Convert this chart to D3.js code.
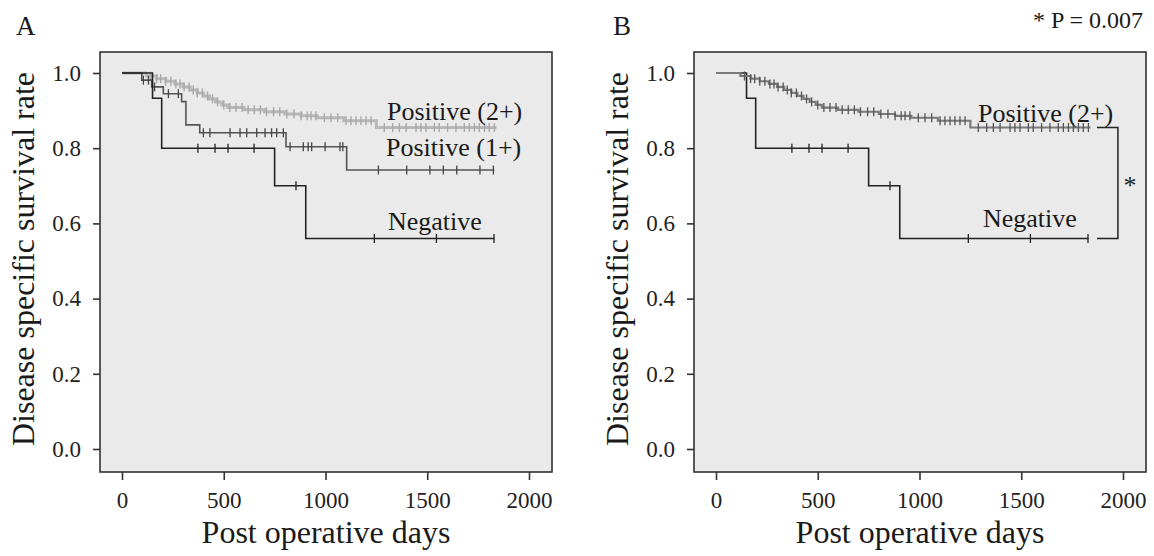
<!DOCTYPE html>
<html><head><meta charset="utf-8">
<script src="https://cdn.jsdelivr.net/npm/d3@7"></script>
<style>
html,body{margin:0;padding:0;background:#fff;}
svg{display:block;font-family:"Liberation Serif","Times New Roman",serif;}
</style></head>
<body><svg id="c" width="1154" height="556"></svg>
<script>
// ---- data ----
const xTicks = [0, 500, 1000, 1500, 2000];
const yTicks = [0.0, 0.2, 0.4, 0.6, 0.8, 1.0];
const panelLetters = ["A", "B"];
const xTitle = "Post operative days";
const yTitle = "Disease specific survival rate";
const pText = "* P = 0.007";

// Negative
const negTimes = [0, 150, 195, 750, 903, 1830];
const negSurv  = [1.0, 0.933, 0.8, 0.7, 0.56, 0.56];
const negCensor = [373, 457, 521, 649, 855, 1240, 1545, 1828];

// Positive (1+)
const pos1Times = [0, 97, 146, 203, 293, 314, 382, 806, 1104, 1830];
const pos1Surv  = [1.0, 0.981, 0.963, 0.945, 0.924, 0.862, 0.841, 0.804, 0.742, 0.742];
const pos1Censor = [105, 130, 160, 228, 277, 400, 432, 531, 580, 613, 662, 703, 735, 760, 793,
                    826, 891, 915, 932, 998, 1071, 1085, 1260, 1399, 1513, 1579, 1645, 1759, 1825];

// Positive (2+)
const pos2Times = [0, 120, 170, 215, 260, 300, 335, 370, 400, 430, 460, 490, 520, 600, 700, 800, 880, 960, 1090, 1250, 1840];
const pos2Surv  = [1.0, 0.992, 0.985, 0.978, 0.971, 0.963, 0.955, 0.947, 0.939, 0.931, 0.923, 0.915, 0.908,
                   0.902, 0.897, 0.891, 0.886, 0.881, 0.873, 0.855, 0.855];
const pos2Censor = [140, 170, 190, 215, 240, 265, 285, 305, 330, 350, 370, 395, 420, 445, 470, 500, 530,
                    560, 590, 620, 650, 680, 710, 745, 775, 810, 845, 880, 910, 929, 953, 994, 1027, 1060,
                    1101, 1125, 1150, 1174, 1199, 1224, 1289, 1330, 1363, 1396, 1445, 1469, 1494, 1535,
                    1559, 1600, 1641, 1682, 1707, 1732, 1756, 1781, 1805, 1830];

const bracketDays = [1872, 1975];

// ---- drawing ----
const svg = d3.select("#c");
const FONT = '"Liberation Serif","Times New Roman",serif';

function survAt(times, surv, t){
  let s = surv[0];
  for (let i = 0; i < times.length; i++){ if (times[i] <= t) s = surv[i]; }
  return s;
}

function drawCurve(g, x, y, times, surv, censor, color, width, censorColor, censorW){
  const line = d3.line().x(d => x(d[0])).y(d => y(d[1])).curve(d3.curveStepAfter);
  const pts = times.map((t, i) => [t, surv[i]]);
  g.append("path").attr("d", line(pts)).attr("fill", "none")
    .attr("stroke", color).attr("stroke-width", width);
  g.selectAll(null).data(censor).enter().append("line")
    .attr("x1", d => x(d)).attr("x2", d => x(d))
    .attr("y1", d => y(survAt(times, surv, d)) - 4.5)
    .attr("y2", d => y(survAt(times, surv, d)) + 4.5)
    .attr("stroke", censorColor).attr("stroke-width", censorW);
}

function panel(off, idx){
  const g = svg.append("g").attr("transform", `translate(${off},0)`);
  const x = d3.scaleLinear().domain([0, 2000]).range([122, 529]);
  const y = d3.scaleLinear().domain([0, 1]).range([449, 73]);
  const box = {x0: 100, x1: 552, y0: 52, y1: 472};

  g.append("rect").attr("x", box.x0).attr("y", box.y0)
    .attr("width", box.x1 - box.x0).attr("height", box.y1 - box.y0)
    .attr("fill", "#eaeaea").attr("stroke", "none");

  // axes
  const ax = g.append("g").attr("transform", `translate(0,${box.y1})`)
    .call(d3.axisBottom(x).tickValues(xTicks).tickSize(8).tickPadding(12).tickFormat(d3.format("d")));
  const ay = g.append("g").attr("transform", `translate(${box.x0},0)`)
    .call(d3.axisLeft(y).tickValues(yTicks).tickSize(7).tickPadding(12).tickFormat(d3.format(".1f")));
  [ax, ay].forEach(a => {
    a.select(".domain").remove();
    a.selectAll(".tick line").attr("stroke", "#333").attr("stroke-width", 1.6);
    a.selectAll(".tick text").attr("font-family", FONT).attr("font-size", 23).attr("fill", "#222");
  });

  g.append("rect").attr("x", box.x0).attr("y", box.y0)
    .attr("width", box.x1 - box.x0).attr("height", box.y1 - box.y0)
    .attr("fill", "none").attr("stroke", "#333").attr("stroke-width", 1.6);

  const cg = g.append("g");
  if (idx === 0){
    drawCurve(cg, x, y, pos2Times, pos2Surv, pos2Censor, "#b8b8b8", 3, "#a8a8a8", 1.4);
    drawCurve(cg, x, y, pos1Times, pos1Surv, pos1Censor, "#555", 1.6, "#444", 1.3);
    drawCurve(cg, x, y, negTimes, negSurv, negCensor, "#222", 1.6, "#222", 1.3);
  } else {
    drawCurve(cg, x, y, negTimes, negSurv, negCensor, "#222", 1.6, "#222", 1.3);
    drawCurve(cg, x, y, pos2Times, pos2Surv, pos2Censor, "#7a7a7a", 2.2, "#555", 1.3);
  }

  const lab = (t, xx, yy) => g.append("text").attr("x", xx).attr("y", yy).text(t)
    .attr("font-family", FONT).attr("font-size", 26).attr("fill", "#1a1a1a");
  if (idx === 0){
    lab("Positive (2+)", 387, 120);
    lab("Positive (1+)", 386, 156);
    lab("Negative", 388, 230);
  } else {
    lab("Positive (2+)", 384, 122);
    lab("Negative", 389, 227);
    // bracket
    const yA = y(pos2Surv[pos2Surv.length - 1]), yB = y(negSurv[negSurv.length - 1]);
    const bx0 = x(bracketDays[0]), bx1 = x(bracketDays[1]);
    g.append("path").attr("d", `M${bx0},${yA}H${bx1}V${yB}H${bx0}`)
      .attr("fill", "none").attr("stroke", "#222").attr("stroke-width", 1.5);
    g.append("text").attr("x", bx1 + 12).attr("y", (yA + yB) / 2 + 11).text("*")
      .attr("text-anchor", "middle").attr("font-family", FONT).attr("font-size", 26).attr("fill", "#222");
    g.append("text").attr("x", 549).attr("y", 28).text(pText).attr("text-anchor", "end")
      .attr("font-family", FONT).attr("font-size", 24).attr("fill", "#1a1a1a");
  }

  // titles
  g.append("text").attr("x", (box.x0 + box.x1) / 2).attr("y", 543).text(xTitle)
    .attr("text-anchor", "middle").attr("font-family", FONT).attr("font-size", 32).attr("fill", "#1a1a1a");
  g.append("text").attr("transform", `translate(34,259) rotate(-90)`).text(yTitle)
    .attr("text-anchor", "middle").attr("font-family", FONT).attr("font-size", 32).attr("fill", "#1a1a1a");
  g.append("text").attr("x", idx === 0 ? 16 : 19).attr("y", 35).text(panelLetters[idx])
    .attr("font-family", FONT).attr("font-size", 27).attr("fill", "#1a1a1a");
}

panel(0, 0);
panel(594, 1);
</script></body></html>
